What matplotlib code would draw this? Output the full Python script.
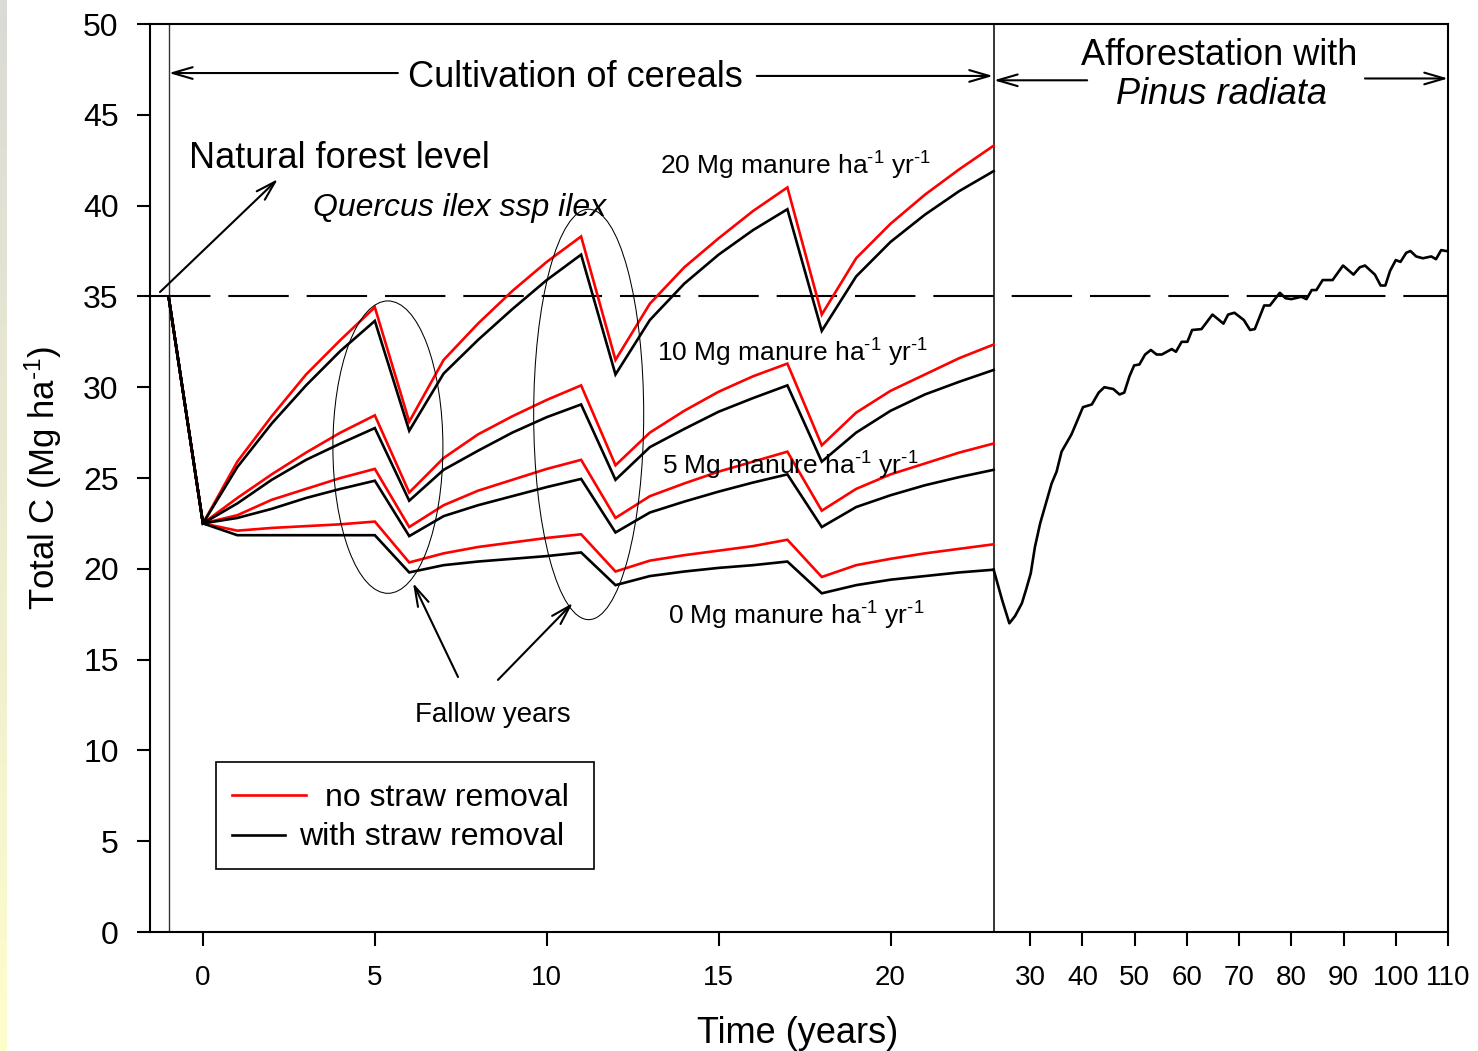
import numpy as np
import matplotlib
matplotlib.use("Agg")
import matplotlib.pyplot as plt
from matplotlib.patches import Ellipse, Rectangle
from matplotlib.lines import Line2D
from matplotlib.ticker import NullLocator

plt.rcParams['font.family'] = ['Liberation Sans', 'DejaVu Sans']
plt.rcParams['mathtext.fontset'] = 'custom'
plt.rcParams['mathtext.rm'] = 'Liberation Sans'
plt.rcParams['mathtext.it'] = 'Liberation Sans:italic'

# ---- cultivation of cereals: year -1 = natural forest, years 0..23 cereals ----
years = list(range(-1, 24))

no_straw_20 = [35.0, 22.5, 25.9, 28.4, 30.7, 32.6, 34.4, 28.1, 31.5, 33.5, 35.3, 36.9, 38.3,
               31.5, 34.6, 36.6, 38.2, 39.7, 41.0, 34.0, 37.1, 39.0, 40.6, 42.0, 43.3]
with_straw_20 = [35.0, 22.5, 25.6, 28.0, 30.1, 32.0, 33.65, 27.6, 30.75, 32.6, 34.3, 35.9, 37.3,
                 30.7, 33.7, 35.7, 37.3, 38.65, 39.8, 33.1, 36.1, 38.0, 39.5, 40.8, 41.9]
no_straw_10 = [35.0, 22.5, 23.9, 25.2, 26.4, 27.5, 28.45, 24.2, 26.1, 27.4, 28.4, 29.3, 30.1,
               25.7, 27.5, 28.7, 29.75, 30.6, 31.3, 26.8, 28.6, 29.8, 30.7, 31.6, 32.35]
with_straw_10 = [35.0, 22.5, 23.6, 24.9, 26.0, 26.9, 27.75, 23.75, 25.45, 26.5, 27.5, 28.35, 29.05,
                 24.9, 26.7, 27.7, 28.65, 29.4, 30.1, 25.9, 27.5, 28.7, 29.6, 30.3, 30.95]
no_straw_5 = [35.0, 22.5, 22.95, 23.8, 24.4, 25.0, 25.5, 22.3, 23.5, 24.3, 24.9, 25.5, 26.0,
              22.8, 24.0, 24.7, 25.35, 25.9, 26.45, 23.2, 24.4, 25.2, 25.8, 26.4, 26.9]
with_straw_5 = [35.0, 22.5, 22.8, 23.3, 23.9, 24.4, 24.85, 21.8, 22.9, 23.5, 24.0, 24.5, 24.95,
                22.0, 23.1, 23.7, 24.25, 24.75, 25.2, 22.3, 23.4, 24.05, 24.6, 25.05, 25.45]
no_straw_0 = [35.0, 22.5, 22.1, 22.25, 22.35, 22.45, 22.6, 20.35, 20.85, 21.2, 21.45, 21.7, 21.9,
              19.85, 20.45, 20.75, 21.0, 21.25, 21.6, 19.55, 20.2, 20.55, 20.85, 21.1, 21.35]
with_straw_0 = [35.0, 22.5, 21.85, 21.85, 21.85, 21.85, 21.85, 19.8, 20.2, 20.4, 20.55, 20.7, 20.9,
                19.1, 19.6, 19.85, 20.05, 20.2, 20.4, 18.65, 19.1, 19.4, 19.6, 19.8, 19.95]

# ---- afforestation with Pinus radiata (years 23..110) ----
aff_years = [23.0, 24.6, 26.0, 27.1, 28.4, 29.2, 30.1, 30.9, 31.9, 33.2, 34.1, 35.05, 36.0, 37.9,
             40.1, 41.8, 43.1, 44.2, 45.9, 47.1, 48.0, 49.0, 49.9, 50.9, 52.0, 53.1, 54.2, 55.2,
             57.1, 57.9, 59.0, 60.1, 61.0, 62.8, 64.9, 67.0, 67.9, 69.1, 70.9, 72.1, 73.0, 74.8,
             75.9, 77.8, 78.9, 80.0, 81.9, 82.9, 83.9, 84.8, 86.0, 87.9, 89.9, 91.9, 93.1, 94.1,
             96.0, 97.1, 98.0, 98.9, 100.0, 100.9, 102.0, 102.8, 103.9, 105.2, 106.8, 107.7,
             108.7, 109.6, 110.0]
aff_c = [19.95, 18.3, 17.0, 17.4, 18.1, 18.85, 19.75, 21.2, 22.5, 23.8, 24.7, 25.35, 26.45, 27.4,
         28.9, 29.05, 29.7, 30.0, 29.9, 29.6, 29.7, 30.6, 31.2, 31.25, 31.8, 32.05, 31.8, 31.8,
         32.1, 31.95, 32.5, 32.5, 33.15, 33.2, 34.0, 33.5, 34.0, 34.1, 33.7, 33.15, 33.2, 34.5,
         34.5, 35.2, 34.9, 34.85, 34.98, 34.85, 35.35, 35.35, 35.9, 35.9, 36.7, 36.2, 36.6, 36.7,
         36.2, 35.6, 35.6, 36.4, 37.0, 36.9, 37.4, 37.5, 37.2, 37.1, 37.2, 37.05, 37.55, 37.5,
         37.5]

forest_level = 35.0
x_ticks = [0, 5, 10, 15, 20, 30, 40, 50, 60, 70, 80, 90, 100, 110]
y_ticks = [0, 5, 10, 15, 20, 25, 30, 35, 40, 45, 50]
manure_labels = ['20 Mg manure ha$^{\u20101}$ yr$^{\u20101}$', '10 Mg manure ha$^{\u20101}$ yr$^{\u20101}$',
                 '5 Mg manure ha$^{\u20101}$ yr$^{\u20101}$', '0 Mg manure ha$^{\u20101}$ yr$^{\u20101}$']
legend_labels = ['no straw removal', 'with straw removal']

# piecewise time axis: full scale during cultivation, compressed afterwards
BREAK = 23.0
SQUEEZE = 0.1519


def fwd(x):
    x = np.asarray(x, dtype=float)
    return np.where(x <= BREAK, x, BREAK + (x - BREAK) * SQUEEZE)


def inv(u):
    u = np.asarray(u, dtype=float)
    return np.where(u <= BREAK, u, BREAK + (u - BREAK) / SQUEEZE)


W, H = 1478, 1051
fig = plt.figure(figsize=(W / 100, H / 100), dpi=100)
fig.patch.set_facecolor('white')


def fx(px):
    return px / W


def fy(py):
    return 1 - py / H


# decorative side strip
strip = fig.add_axes([0, 0, 7 / W, 1])
grad = np.linspace(0, 1, 256)[:, None]
c_top = np.array([0.855, 0.855, 0.84])
c_bot = np.array([0.995, 0.995, 0.80])
img = c_top[None, None, :] * (1 - grad[..., None]) + c_bot[None, None, :] * grad[..., None]
strip.imshow(img, aspect='auto', extent=[0, 1, 0, 1])
strip.set_axis_off()

ax = fig.add_axes([fx(150), fy(932), (1448 - 150) / W, (932 - 24) / H])
ax.set_xscale('function', functions=(fwd, inv))
ax.set_xlim(-1.54, 110)
ax.set_ylim(0, 50)

lw_curve = 1.9
pairs = [(no_straw_20, with_straw_20), (no_straw_10, with_straw_10),
         (no_straw_5, with_straw_5), (no_straw_0, with_straw_0)]
for red_s, blk_s in pairs:
    ax.plot(years, red_s, color='#ff0000', lw=lw_curve, zorder=3, solid_joinstyle='miter')
for red_s, blk_s in pairs:
    ax.plot(years, blk_s, color='black', lw=lw_curve, zorder=4, solid_joinstyle='miter')
ax.plot(aff_years, aff_c, color='black', lw=lw_curve, zorder=4)

# natural forest level
ax.axhline(forest_level, color='black', lw=1.5, dashes=(29, 8.6), zorder=2)

# phase boundaries
ax.axvline(-1, color='#333333', lw=1.0, zorder=2)
ax.axvline(BREAK, color='black', lw=1.1, zorder=2)

# fallow-year ellipses
ax.add_patch(Ellipse((5.38, 26.7), 3.2, 16.1, fill=False, ec='black', lw=0.75, zorder=5))
ax.add_patch(Ellipse((11.22, 28.5), 3.2, 22.6, fill=False, ec='black', lw=0.75, zorder=5))

arrow_kw = dict(arrowstyle='->,head_length=1.2,head_width=0.35', color='black', lw=1.5,
                mutation_scale=12, shrinkA=0, shrinkB=0)


def arrow(tail, tip):
    ax.annotate('', xy=tip, xytext=tail, arrowprops=arrow_kw, zorder=6,
                annotation_clip=False)


# cultivation span
arrow((5.67, 47.3), (-0.99, 47.3))
arrow((16.11, 47.14), (22.98, 47.14))
ax.text(10.82, 46.53, 'Cultivation of cereals', fontsize=26, ha='center', va='baseline')

# afforestation span
arrow((40.9, 46.9), (23.05, 46.9))
arrow((94.1, 47.0), (110.0, 47.0))
ax.text(66.25, 47.74, 'Afforestation with', fontsize=26, ha='center', va='baseline')
ax.text(66.6, 45.6, 'Pinus radiata', fontsize=26, ha='center', va='baseline', style='italic')

# natural forest
arrow((-1.25, 35.24), (2.18, 41.46))
ax.text(-0.4, 42.07, 'Natural forest level', fontsize=26, ha='left', va='baseline')
ax.text(3.21, 39.44, 'Quercus ilex ssp ilex', fontsize=23, ha='left', va='baseline',
        style='italic')

# manure rates
for (lx, ly), lab in zip([(13.29, 41.69), (13.21, 31.4), (13.34, 25.17), (13.53, 16.9)],
                         manure_labels):
    ax.text(lx, ly, lab, fontsize=19, ha='left', va='baseline', zorder=7)

# fallow years
arrow((7.42, 14.04), (6.11, 19.22))
arrow((8.58, 13.88), (10.76, 18.12))
ax.text(6.17, 11.58, 'Fallow years', fontsize=20, ha='left', va='baseline')

# legend
fig.add_artist(Rectangle((fx(216), fy(869)), (594 - 216) / W, (869 - 762) / H,
                         transform=fig.transFigure, fill=False, ec='black', lw=1.2))
fig.add_artist(Line2D([fx(232), fx(306)], [fy(795), fy(795)], transform=fig.transFigure,
                      color='#ff0000', lw=lw_curve))
fig.add_artist(Line2D([fx(232), fx(285)], [fy(835), fy(835)], transform=fig.transFigure,
                      color='black', lw=lw_curve))
fig.text(fx(325), fy(806.5), legend_labels[0], fontsize=23, ha='left', va='baseline')
fig.text(fx(299), fy(845), legend_labels[1], fontsize=23, ha='left', va='baseline')

# axes styling
ax.set_xticks(x_ticks)
ax.set_xticklabels([str(t) for t in x_ticks])
ax.xaxis.set_minor_locator(NullLocator())
ax.set_yticks(y_ticks)
ax.set_yticklabels([str(t) for t in y_ticks])
ax.tick_params(axis='x', direction='out', length=10, width=1.5, labelsize=20, pad=14)
ax.tick_params(axis='y', direction='out', length=9.5, width=1.5, labelsize=23, pad=13)
for sp in ax.spines.values():
    sp.set_linewidth(1.5)

ax.set_xlabel('Time (years)', fontsize=26)
ax.xaxis.label.set_va('baseline')
ax.xaxis.set_label_coords((798 - 150) / 1298, (932 - 1043) / 908)
ax.set_ylabel('Total C (Mg ha$^{\u20101}$)', fontsize=25)
ax.yaxis.label.set_va('center')
ax.yaxis.set_label_coords((43 - 150) / 1298, 0.5)

fig.savefig('out.png', dpi=100)
